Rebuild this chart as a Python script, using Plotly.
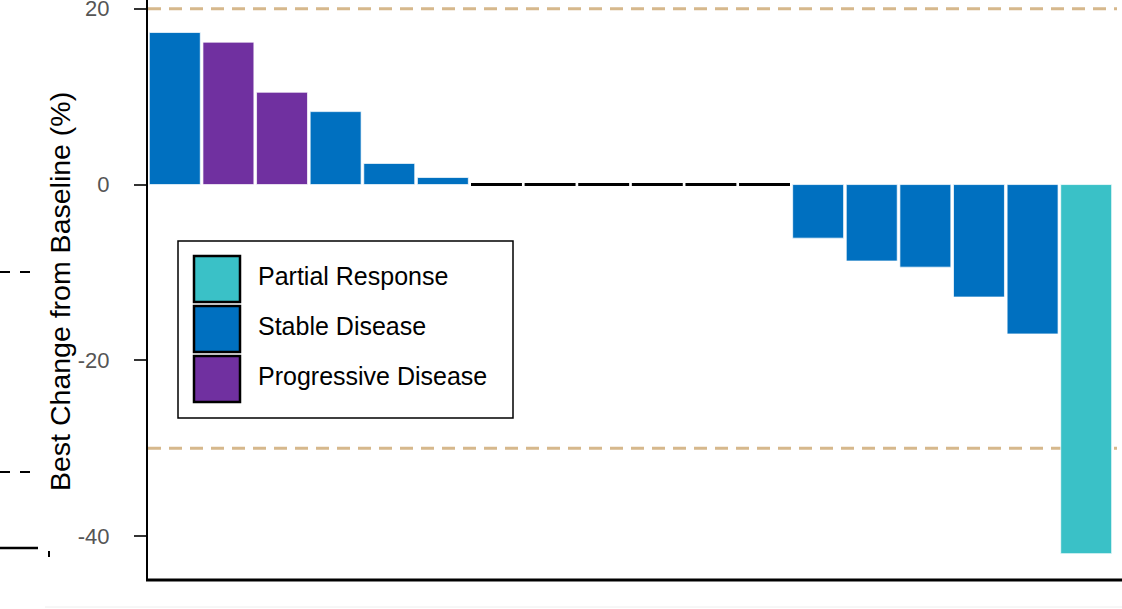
import plotly.graph_objects as go

# ---- data ----
patients = list(range(1, 19))
best_change = [17.3, 16.2, 10.5, 8.3, 2.4, 0.8, 0, 0, 0, 0, 0, 0,
               -6.1, -8.7, -9.4, -12.8, -17.0, -42.0]
response = ["Stable Disease", "Progressive Disease", "Progressive Disease",
            "Stable Disease", "Stable Disease", "Stable Disease",
            "Stable Disease", "Stable Disease", "Stable Disease",
            "Stable Disease", "Stable Disease", "Stable Disease",
            "Stable Disease", "Stable Disease", "Stable Disease",
            "Stable Disease", "Stable Disease", "Partial Response"]
categories = ["Partial Response", "Stable Disease", "Progressive Disease"]
colors = {"Partial Response": "#3AC1C7",
          "Stable Disease": "#0070C0",
          "Progressive Disease": "#7030A0"}
thresholds = [20, -30]
y_ticks = [-40, -20, 0, 20]
y_ticktext = ["-40", "-20", "0", "20"]

# ---- figure ----
fig = go.Figure()
for cat in categories:
    xs = [p for p, v, r in zip(patients, best_change, response) if r == cat and v != 0]
    ys = [v for p, v, r in zip(patients, best_change, response) if r == cat and v != 0]
    fig.add_trace(go.Bar(x=xs, y=ys, name=cat, marker_color=colors[cat],
                         marker_line=dict(color="rgba(255,255,255,0.7)", width=1),
                         showlegend=False))
# zero-change patients drawn as thin black bars
zx = [p for p, v in zip(patients, best_change) if v == 0]
fig.add_trace(go.Bar(x=zx, y=[0.34] * len(zx), base=[-0.17] * len(zx),
                     marker_color="black", marker_line_width=0, showlegend=False))

L, R, T, B = 148, 9, 0, 29
W, H = 1122, 609
pw, ph = W - L - R, H - T - B

def px(xp):
    return (xp - L) / pw

def py(yp):
    return (H - B - yp) / ph

shapes = []
for t in thresholds:
    shapes.append(dict(type="line", xref="paper", yref="y", x0=0, x1=px(1117), y0=t, y1=t,
                       line=dict(color="#D6B88C", width=3, dash="13px,8px"), layer="below"))
# x axis baseline
shapes.append(dict(type="line", xref="paper", yref="paper", x0=px(146), x1=px(1122), y0=0, y1=0,
                   line=dict(color="black", width=3)))

# custom legend
lx0, lx1, ly0, ly1 = 178, 513, 241, 418
shapes.append(dict(type="rect", xref="paper", yref="paper", x0=px(lx0), x1=px(lx1),
                   y0=py(ly1), y1=py(ly0), line=dict(color="black", width=1.5),
                   fillcolor="white"))
annotations = []
sw_tops = [256, 306, 356]
for cat, top in zip(categories, sw_tops):
    shapes.append(dict(type="rect", xref="paper", yref="paper", x0=px(194), x1=px(240),
                       y0=py(top + 46), y1=py(top), line=dict(color="black", width=2.5),
                       fillcolor=colors[cat]))
    annotations.append(dict(xref="paper", yref="paper", x=px(256), y=py(top + 20),
                            text=cat, showarrow=False, xanchor="left", yanchor="middle",
                            font=dict(size=25, color="black")))

# y axis title
annotations.append(dict(xref="paper", yref="paper", x=px(60), y=py(292),
                        text="Best Change from Baseline (%)", textangle=-90,
                        showarrow=False, xanchor="center", yanchor="middle",
                        font=dict(size=28.5, color="black")))

# stray marks at the left edge of the source image
for yy in [272, 472]:
    for a, b in [(0, 10), (20, 30)]:
        shapes.append(dict(type="line", xref="paper", yref="paper", x0=px(a), x1=px(b),
                           y0=py(yy), y1=py(yy), line=dict(color="black", width=2)))
shapes.append(dict(type="line", xref="paper", yref="paper", x0=px(0), x1=px(38),
                   y0=py(548), y1=py(548), line=dict(color="black", width=2.5)))
shapes.append(dict(type="line", xref="paper", yref="paper", x0=px(49), x1=px(49),
                   y0=py(551), y1=py(557), line=dict(color="black", width=2)))
shapes.append(dict(type="line", xref="paper", yref="paper", x0=px(45), x1=px(1122),
                   y0=py(607), y1=py(607), line=dict(color="#EEEEEE", width=1)))

fig.update_layout(
    width=W, height=H,
    margin=dict(l=L, r=R, t=T, b=B, pad=0, autoexpand=False),
    plot_bgcolor="white", paper_bgcolor="white",
    barmode="overlay", bargap=0.05,
    font=dict(family="Arial, Liberation Sans, sans-serif"),
    shapes=shapes, annotations=annotations,
    showlegend=False,
)
fig.update_xaxes(range=[0.5, 18.5], showticklabels=False, ticks="", showgrid=False,
                 zeroline=False, showline=False, automargin=False)
fig.update_yaxes(range=[-45.0, 21.0], tickvals=y_ticks, ticktext=y_ticktext,
                 ticks="outside", ticklen=12, ticklabelstandoff=20,
                 ticklabeloverflow="allow", automargin=False,
                 tickwidth=2, tickcolor="#333333", showline=True, linecolor="black",
                 linewidth=2, showgrid=False, zeroline=False,
                 tickfont=dict(size=22, color="#555555"))

fig.write_html("out.html", config={"displayModeBar": False})
with open("out.html", "r", encoding="utf-8") as f:
    html = f.read()
html = html.replace("<body>", '<body style="margin:0;padding:0;overflow:hidden">', 1)
with open("out.html", "w", encoding="utf-8") as f:
    f.write(html)
